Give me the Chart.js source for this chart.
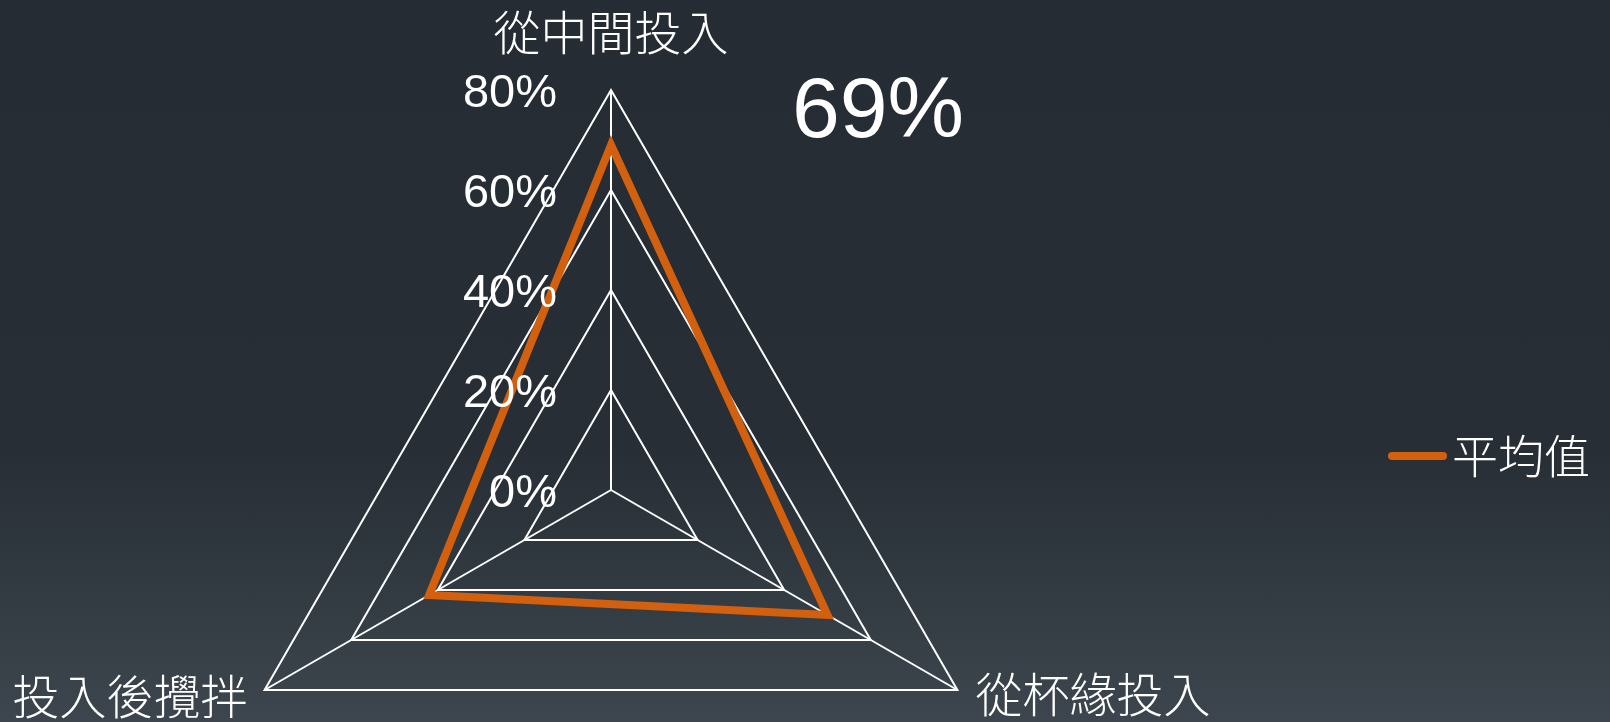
<!DOCTYPE html>
<html>
<head>
<meta charset="utf-8">
<script src="https://cdn.jsdelivr.net/npm/chart.js@4.4.1/dist/chart.umd.min.js"></script>
<style>
  html, body { margin: 0; padding: 0; }
  body {
    width: 1610px;
    height: 722px;
    overflow: hidden;
    background: linear-gradient(to bottom, #252c33 0%, #272e35 62%, #3d464e 100%);
  }
  #wrap { position: relative; width: 1610px; height: 722px; overflow: hidden; }
  canvas { position: absolute; left: 0; top: 0; }
</style>
</head>
<body>
<div id="wrap">
  <canvas id="radar" width="1610" height="900"></canvas>
</div>
<script>
  // Axes, clockwise from the top
  const categories = ['從中間投入', '從杯緣投入', '投入後攪拌'];
  const seriesName = '平均值';
  const averageValues = [69, 50, 42];
  const tickValues = [0, 20, 40, 60, 80];

  const ORANGE = '#d2600e';
  const WHITE = '#ffffff';
  const LATIN = "'Liberation Sans', Arial, sans-serif";
  const CJK = "'Noto Sans CJK TC', 'Noto Sans CJK SC', sans-serif";

  // Tick labels, axis titles, the headline value and the legend sit outside the
  // default radar layout, so they are painted here against the r scale.
  const radarText = {
    id: 'radarText',
    afterDraw(chart) {
      const ctx = chart.ctx;
      const scale = chart.scales.r;
      const cx = scale.xCenter;
      const cy = scale.yCenter;

      ctx.save();
      ctx.fillStyle = WHITE;

      // percent ticks, right aligned next to the vertical axis
      ctx.font = `47px ${LATIN}`;
      ctx.textAlign = 'right';
      ctx.textBaseline = 'middle';
      tickValues.forEach(v => {
        const y = cy - scale.getDistanceFromCenterForValue(v);
        ctx.fillText(`${v}%`, cx - 54, y + 4);
      });

      // category names at the outer corners
      ctx.font = `300 47px ${CJK}`;
      const outer = scale.getDistanceFromCenterForValue(scale.max);
      const top = scale.getPointPosition(0, outer);
      const right = scale.getPointPosition(1, outer);
      const left = scale.getPointPosition(2, outer);

      ctx.textAlign = 'center';
      ctx.fillText(categories[0], top.x, top.y - 58);
      ctx.textAlign = 'left';
      ctx.fillText(categories[1], right.x + 18, right.y + 4);
      ctx.textAlign = 'right';
      ctx.fillText(categories[2], left.x - 17, left.y + 6);

      // headline value of the top axis
      ctx.font = `86px ${LATIN}`;
      ctx.textAlign = 'center';
      ctx.fillText(`${averageValues[0]}%`, cx + 267, cy - 377);

      // legend
      const ds = chart.data.datasets[0];
      ctx.strokeStyle = ds.borderColor;
      ctx.lineWidth = 8;
      ctx.lineCap = 'round';
      ctx.beginPath();
      ctx.moveTo(1392, 456);
      ctx.lineTo(1443, 456);
      ctx.stroke();
      ctx.font = `300 46px ${CJK}`;
      ctx.textAlign = 'left';
      ctx.fillText(ds.label, 1452, 456);

      ctx.restore();
    }
  };

  new Chart(document.getElementById('radar'), {
    type: 'radar',
    data: {
      labels: categories,
      datasets: [{
        label: seriesName,
        data: averageValues,
        borderColor: ORANGE,
        backgroundColor: 'transparent',
        borderWidth: 8,
        borderJoinStyle: 'miter',
        fill: false,
        pointRadius: 0,
        pointHoverRadius: 0
      }]
    },
    options: {
      responsive: false,
      animation: false,
      events: [],
      layout: {
        padding: { left: 211, right: 599, top: 90, bottom: 10 }
      },
      plugins: {
        legend: { display: false },
        tooltip: { enabled: false }
      },
      scales: {
        r: {
          min: 0,
          max: 80,
          ticks: { stepSize: 20, display: false },
          grid: { color: WHITE, lineWidth: 2 },
          angleLines: { color: WHITE, lineWidth: 2 },
          pointLabels: { display: false }
        }
      }
    },
    plugins: [radarText]
  });
</script>
</body>
</html>
